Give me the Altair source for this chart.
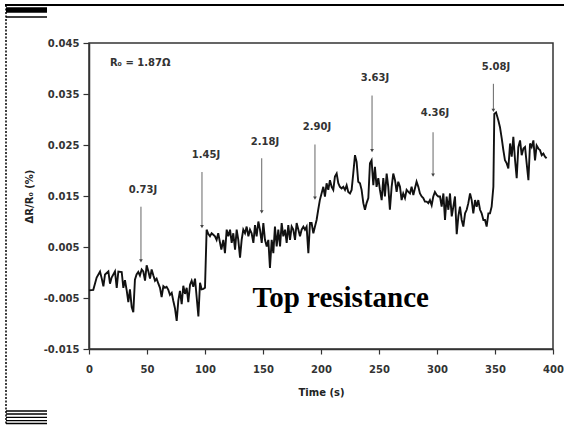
import altair as alt
import pandas as pd

# ---- resistance trace, time in s and dR/R0 in % ----
t_a = [0, 3.7, 6.6, 9.5, 11, 12.4, 13.8, 16.7, 18.1, 19.5,
       22.4, 23.9, 25.3, 28.2, 29.6, 31, 32.5, 33.9, 35.3, 36.8,
       38.2, 39.6, 41, 42.5, 43.9, 45.4, 46.8, 48.3, 49.7, 51.2,
       52.6, 54, 55.5, 56.9, 58.3, 59.8, 61.2, 62.6, 64.1, 65.5,
       66.9, 68.4, 69.8, 71.3, 72.7, 74.1, 75.6, 77, 78.4, 79.9,
       81.3, 82.8, 84.2, 85.6, 87.1, 88.5, 89.9, 91.4, 92.8, 94.3,
       95.7, 97.1, 98.6, 100]
v_a = [-0.0035, -0.0034, -0.0010, 0.0002, -0.0012, -0.0027, -0.0004, 0.0002, -0.0022, -0.0010,
       0.0002, -0.0030, 0.0002, 0.0001, -0.0030, -0.0015, -0.0035, -0.0058, -0.0033, -0.0068,
       -0.0078, -0.0014, -0.0004, 0.0001, -0.0006, 0.0006, 0.0002, -0.0016, 0.0014, 0.0002,
       -0.0012, 0.0006, -0.0006, -0.0016, -0.0012, -0.0022, -0.0030, -0.0048, -0.0027, -0.0030,
       -0.0028, -0.0034, -0.0044, -0.0040, -0.0056, -0.0070, -0.0095, -0.0055, -0.0036, -0.0062,
       -0.0026, -0.0042, -0.0030, -0.0058, -0.0024, -0.0016, -0.0028, -0.0012, -0.0048, -0.0086,
       -0.0020, -0.0033, -0.0032, -0.0030]

t_b = [101.4, 102.8, 104.3, 105.7, 107.2, 108.6, 110, 111.4, 112.8, 114.1,
       115.8, 117.2, 118.7, 120.1, 121.6, 123, 124.4, 125.9, 127.3, 128.7,
       130.2, 131.6, 133, 134.5, 135.9, 137.4, 138.8, 140.2, 141.7, 143.1,
       144.5, 146, 147.4, 148.9, 150.3, 151.7, 153.2, 154.6, 156, 157.5,
       158.9, 160.3, 161.8, 163.2, 164.7, 166.1, 167.5, 169, 170.4, 171.8,
       173.3, 174.7, 176.1, 177.6, 179, 180.5, 181.9, 183.3, 184.8, 186.2,
       187.6, 189.1, 190.5, 191.9, 193.4, 194.8, 196.2, 197.6, 199]
v_b = [0.0084, 0.0076, 0.0071, 0.0077, 0.0074, 0.0071, 0.0064, 0.0077, 0.0060, 0.0045,
       0.0064, 0.0038, 0.0084, 0.0071, 0.0084, 0.0058, 0.0077, 0.0045, 0.0084, 0.0064,
       0.0029, 0.0064, 0.0084, 0.0077, 0.0090, 0.0071, 0.0084, 0.0077, 0.0058, 0.0093,
       0.0071, 0.0100, 0.0084, 0.0058, 0.0097, 0.0064, 0.0051, 0.0064, 0.0009, 0.0064,
       0.0038, 0.0090, 0.0051, 0.0084, 0.0051, 0.0097, 0.0071, 0.0084, 0.0058, 0.0093,
       0.0064, 0.0090, 0.0084, 0.0064, 0.0097, 0.0084, 0.0071, 0.0084, 0.0090, 0.0084,
       0.0090, 0.0038, 0.0097, 0.0097, 0.0077, 0.0090, 0.0103, 0.0123, 0.0142]

t_c = [202, 203.4, 204.8, 206.3, 207.7, 209.2, 210.6, 212, 213.5, 214.9,
       216.3, 217.8, 219.2, 220.7, 222.1, 223.5, 225, 226.4, 227.8, 229.3,
       230.7, 232.1, 233.6, 235, 236.5, 237.9, 239.3, 240.8, 242.2, 243.6,
       245.1, 246.5, 247.9, 249.4, 250.8, 252.3, 253.7, 255.1, 256.6, 258,
       259.4, 260.9, 262.3, 263.8, 265.2, 266.6, 268.1, 269.5, 270.9, 272.4,
       273.8, 275.3, 276.7, 278.1, 279.6, 281, 282.4, 283.9, 285.3, 286.8,
       288.2, 289.6, 291.1, 292.5, 293.9, 295.4, 296.8, 298.2, 299.7, 301.1]
v_c = [0.0168, 0.0149, 0.0175, 0.0162, 0.0181, 0.0168, 0.0162, 0.0188, 0.0194, 0.0175,
       0.0168, 0.0165, 0.0168, 0.0162, 0.0171, 0.0158, 0.0155, 0.0162, 0.0194, 0.0230,
       0.0217, 0.0178, 0.0175, 0.0162, 0.0136, 0.0123, 0.0136, 0.0146, 0.0214, 0.0220,
       0.0171, 0.0207, 0.0168, 0.0185, 0.0162, 0.0142, 0.0185, 0.0149, 0.0194, 0.0168,
       0.0123, 0.0168, 0.0194, 0.0181, 0.0158, 0.0178, 0.0168, 0.0142, 0.0155, 0.0146,
       0.0162, 0.0158, 0.0155, 0.0168, 0.0152, 0.0165, 0.0178, 0.0168, 0.0155, 0.0149,
       0.0146, 0.0139, 0.0139, 0.0136, 0.0142, 0.0132, 0.0149, 0.0158, 0.0152, 0.0149]

t_d = [302.6, 304, 305.5, 306.9, 308.3, 309.8, 311.2, 312.7, 314.1, 315.5,
       317, 318.4, 319.8, 321.3, 322.7, 324.2, 325.6, 327, 328.5, 329.9,
       331.3, 332.8, 334.2, 335.6, 337.1, 338.5, 340, 341.4, 342.8, 344.3,
       345.7, 347.1, 348.6, 349.4, 350.9, 352.9, 354.3, 355.8, 357.2, 358.6,
       360.1, 361.5, 363, 364.4, 365.8, 367.3, 368.7, 370.1, 371.6, 373,
       374.5, 375.9, 377.3, 378.8, 380.2, 381.6, 383.1, 384.5, 385.9, 387.4,
       388.8, 390.3, 391.7, 393.1, 394.5]
v_d = [0.0149, 0.0129, 0.0155, 0.0103, 0.0149, 0.0123, 0.0155, 0.0110, 0.0129, 0.0149,
       0.0075, 0.0110, 0.0129, 0.0103, 0.0090, 0.0116, 0.0123, 0.0136, 0.0155, 0.0142,
       0.0116, 0.0142, 0.0129, 0.0142, 0.0123, 0.0116, 0.0103, 0.0103, 0.0090, 0.0116,
       0.0116, 0.0129, 0.0168, 0.0311, 0.0314, 0.0298, 0.0285, 0.0263, 0.0240, 0.0220,
       0.0214, 0.0204, 0.0253, 0.0227, 0.0266, 0.0220, 0.0185, 0.0246, 0.0259, 0.0230,
       0.0243, 0.0246, 0.0214, 0.0181, 0.0253, 0.0246, 0.0259, 0.0220, 0.0249, 0.0243,
       0.0240, 0.0230, 0.0233, 0.0227, 0.0224]

# ---- pulse annotations ----
pulse_energy = ["0.73J", "1.45J", "2.18J", "2.90J", "3.63J", "4.36J", "5.08J"]
pulse_time = [44.8, 97.4, 148.9, 194.8, 244.0, 296.6, 348.6]
arrow_start = [0.0129, 0.0197, 0.0224, 0.0251, 0.0347, 0.0275, 0.0370]
arrow_tip = [0.0023, 0.0090, 0.0119, 0.0146, 0.0239, 0.0191, 0.0318]
label_time = [46.5, 100.9, 151.7, 196.6, 246.6, 298.3, 350.9]
label_level = [0.0162, 0.0230, 0.0256, 0.0285, 0.0382, 0.0312, 0.0402]

x_ticks = [0, 50, 100, 150, 200, 250, 300, 350, 400]
y_ticks = [-0.015, -0.005, 0.005, 0.015, 0.025, 0.035, 0.045]

trace = pd.DataFrame({"time": t_a + t_b + t_c + t_d, "dr": v_a + v_b + v_c + v_d})
arrows = pd.DataFrame({"time": pulse_time, "dr": arrow_start, "tip": arrow_tip})
tips = pd.DataFrame({"time": pulse_time, "dr": arrow_tip})
labels = pd.DataFrame({"time": label_time, "dr": label_level, "energy": pulse_energy})
r0_note = pd.DataFrame({"time": [18], "dr": [0.0411], "txt": ["R\u2080 = 1.87\u03a9"]})
panel_note = pd.DataFrame({"time": [217], "dr": [-0.0068], "txt": ["Top resistance"]})

x_scale = alt.Scale(domain=[0, 400], nice=False, zero=False)
y_scale = alt.Scale(domain=[-0.015, 0.045], nice=False, zero=False)

# y labels use a plain hyphen for negatives
y_label_expr = "(datum.value < 0 ? '-' : '') + format(abs(datum.value), '.3f')"

line = alt.Chart(trace).mark_line(color="#111", strokeWidth=1.9, strokeJoin="miter").encode(
    x=alt.X("time:Q", scale=x_scale,
            axis=alt.Axis(values=x_ticks, title="Time (s)", tickSize=5, labelPadding=10,
                          labelFlush=False, titleY=43, titleBaseline="middle")),
    y=alt.Y("dr:Q", scale=y_scale,
            axis=alt.Axis(values=y_ticks, labelExpr=y_label_expr, title="\u0394R/R\u2080 (%)",
                          tickSize=6, labelPadding=4, titleX=-60, titleAngle=270,
                          titleBaseline="middle")),
)

arrow_lines = alt.Chart(arrows).mark_rule(color="#666", strokeWidth=1).encode(
    x="time:Q", y="dr:Q", y2="tip:Q")
arrow_heads = alt.Chart(tips).mark_point(shape="triangle-down", filled=True, size=14,
                                         color="#444", opacity=1).encode(x="time:Q", y="dr:Q")
energy_text = alt.Chart(labels).mark_text(font="DejaVu Sans", fontWeight="bold", fontSize=10,
                                          color="#333").encode(
    x="time:Q", y="dr:Q", text="energy:N")
r0_text = alt.Chart(r0_note).mark_text(font="DejaVu Sans", fontWeight="bold", fontSize=10,
                                       color="#333", align="left").encode(
    x="time:Q", y="dr:Q", text="txt:N")
panel_text = alt.Chart(panel_note).mark_text(font="Liberation Serif", fontWeight="bold",
                                             fontSize=29, color="#000",
                                             baseline="alphabetic").encode(
    x="time:Q", y="dr:Q", text="txt:N")

# page border strokes around the figure
stub = pd.DataFrame({"k": [0]})


def hrule(x0, x1, y, w):
    return alt.Chart(stub).mark_rule(color="#000", strokeWidth=w).encode(
        x=alt.value(x0), x2=alt.value(x1), y=alt.value(y))


border = [
    hrule(-84, 475, -38, 2.2),
    hrule(-83, -42, -33, 5.5),
    hrule(-83, -42, -26, 1.5),
    hrule(-83, -42, 368, 1.3),
    hrule(-83, -42, 371, 1.3),
    hrule(-83, -42, 374.3, 1.3),
    hrule(-83, -42, 377.7, 1.3),
    hrule(-83, -42, 380.5, 1.3),
    alt.Chart(stub).mark_rule(color="#000", strokeWidth=1.5, strokeDash=[2, 1.5]).encode(
        x=alt.value(-83), y=alt.value(-38), y2=alt.value(382)),
]

chart = alt.layer(line, arrow_lines, arrow_heads, energy_text, r0_text, panel_text,
                  *border).properties(
    width=464, height=306,
    autosize=alt.AutoSizeParams(type="none"),
    padding={"left": 89, "top": 43, "right": 11, "bottom": 76},
).configure_axis(
    labelFont="DejaVu Sans", labelFontWeight="bold", labelFontSize=10, labelColor="#333",
    titleFont="DejaVu Sans", titleFontWeight="bold", titleFontSize=10, titleColor="#222",
    domainColor="#333", domainWidth=1.5, tickColor="#333", tickWidth=1.2, grid=False,
).configure_view(stroke="#333", strokeWidth=1.5)

chart.save("out.html", embed_options={"renderer": "svg", "actions": False})
